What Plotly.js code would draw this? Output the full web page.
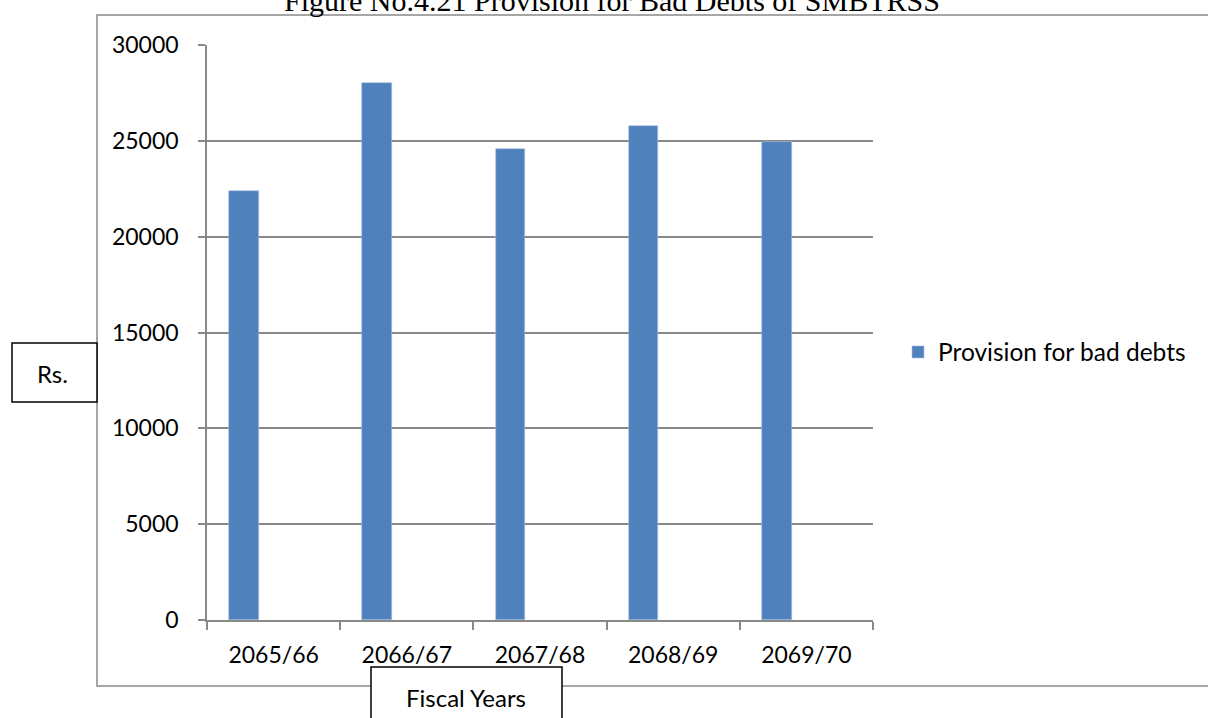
<!DOCTYPE html>
<html>
<head>
<meta charset="utf-8">
<script src="https://cdn.plot.ly/plotly-3.0.1.min.js"></script>
<style>
html,body{margin:0;padding:0;background:#fff;}
#chart{width:1208px;height:718px;}
</style>
</head>
<body>
<div id="chart"></div>
<script>
// Data
const fiscalYears = ["2065/66", "2066/67", "2067/68", "2068/69", "2069/70"];
const provisionForBadDebts = [22380, 28020, 24550, 25780, 24960];
const seriesName = "Provision for bad debts";
const chartTitle = "Figure No.4.21 Provision for Bad Debts of SMBTRSS";
const yAxisLabel = "Rs.";
const xAxisLabel = "Fiscal Years";

// Layout geometry (pixels)
const W = 1208, H = 718;
const PL = 207, PR = 873, PT = 45, PB = 620;
const pw = PR - PL, ph = PB - PT;
const fx = px => (px - PL) / pw;
const fy = py => (PB - py) / ph;

const FONT = "Lato, 'Open Sans', sans-serif";
const GRID = "#898989";

const trace = {
  type: "bar",
  x: fiscalYears,
  y: provisionForBadDebts,
  name: seriesName,
  offset: -0.3333,
  width: 0.2222,
  marker: {color: "#4F81BD", line: {color: "#A7BFDE", width: 0.6}},
  showlegend: true,
  hoverinfo: "x+y"
};

const layout = {
  width: W, height: H,
  margin: {l: PL, r: W - PR, t: PT, b: H - PB, pad: 0},
  paper_bgcolor: "#fff",
  plot_bgcolor: "#fff",
  font: {family: FONT, size: 23, color: "#000"},
  bargap: 0,
  xaxis: {
    type: "category",
    range: [-0.5, 4.5],
    tickson: "boundaries",
    ticks: "outside",
    ticklen: 8,
    tickwidth: 1.5,
    tickcolor: GRID,
    showgrid: false,
    showline: true,
    linecolor: GRID,
    linewidth: 1.5,
    zeroline: false,
    tickfont: {family: FONT, size: 23, color: "#000"},
    ticklabelstandoff: 14,
    fixedrange: true
  },
  yaxis: {
    range: [0, 30000],
    dtick: 5000,
    tick0: 0,
    tickformat: "d",
    ticks: "outside",
    ticklen: 7,
    tickwidth: 1.5,
    tickcolor: GRID,
    showgrid: true,
    gridcolor: GRID,
    gridwidth: 1.5,
    showline: true,
    linecolor: GRID,
    linewidth: 1.5,
    zeroline: false,
    tickfont: {family: FONT, size: 23, color: "#000"},
    ticklabelstandoff: 15,
    fixedrange: true
  },
  legend: {
    x: fx(898), y: fy(352),
    xanchor: "left", yanchor: "middle",
    font: {family: FONT, size: 24.5, color: "#000"},
    bgcolor: "rgba(0,0,0,0)"
  },
  shapes: [
    {type: "rect", xref: "paper", yref: "paper", x0: fx(97), x1: fx(1220), y0: fy(686), y1: fy(15),
     line: {color: GRID, width: 1.5}, fillcolor: "rgba(0,0,0,0)", layer: "below"},
    {type: "rect", xref: "paper", yref: "paper", x0: fx(12), x1: fx(97), y0: fy(402), y1: fy(343),
     line: {color: "#000", width: 1.5}, fillcolor: "#fff", layer: "above"},
    {type: "rect", xref: "paper", yref: "paper", x0: fx(371), x1: fx(562), y0: fy(730), y1: fy(667),
     line: {color: "#000", width: 1.5}, fillcolor: "#fff", layer: "above"}
  ],
  annotations: [
    {text: chartTitle, xref: "paper", yref: "paper", x: fx(612), y: fy(0), xanchor: "center", yanchor: "middle",
     showarrow: false, font: {family: "'Liberation Serif', 'Times New Roman', serif", size: 30, color: "#000"}},
    {text: yAxisLabel, xref: "paper", yref: "paper", x: fx(52), y: fy(373), xanchor: "center", yanchor: "middle",
     showarrow: false, font: {family: FONT, size: 24, color: "#000"}},
    {text: xAxisLabel, xref: "paper", yref: "paper", x: fx(466), y: fy(697), xanchor: "center", yanchor: "middle",
     showarrow: false, font: {family: FONT, size: 24, color: "#000"}}
  ]
};

Plotly.newPlot("chart", [trace], layout, {displayModeBar: false});
</script>
</body>
</html>
